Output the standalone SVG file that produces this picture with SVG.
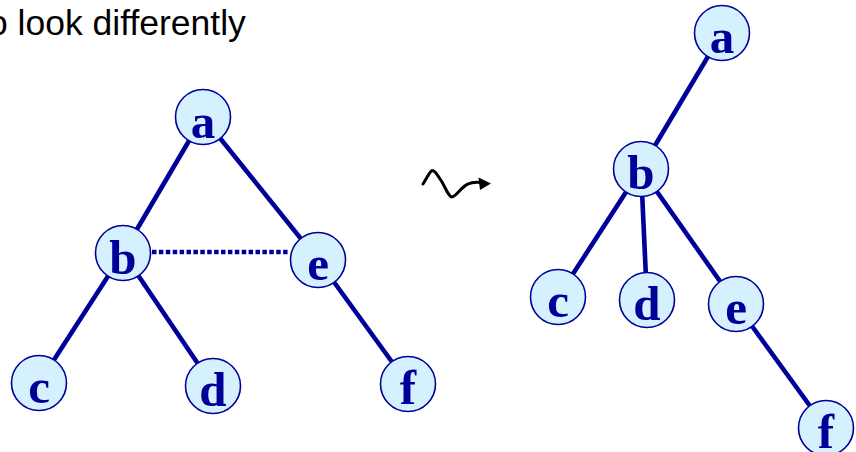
<svg xmlns="http://www.w3.org/2000/svg" width="856" height="452" viewBox="0 0 856 452">
<style>
.edge{stroke:#000099;stroke-width:4.6;fill:none;stroke-linecap:butt}
.dot{stroke:#000099;stroke-width:4.5;fill:none;stroke-dasharray:4.5 2.4}
.node circle{fill:#d5f0fe;stroke:#000099;stroke-width:1.6}
.node text{font-family:"Liberation Serif","Times New Roman",serif;font-weight:bold;font-size:49px;fill:#000099;text-anchor:middle}
.title{font-family:"Liberation Sans",Arial,sans-serif;font-size:35.5px;fill:#000000}
</style>
<rect width="856" height="452" fill="#ffffff"/>
<text class="title" x="-12" y="35">o look differently</text>
<g id="connectors">
<line class="edge" x1="203" y1="117" x2="123" y2="253"/>
<line class="edge" x1="203" y1="117" x2="318" y2="260"/>
<line class="edge" x1="123" y1="253" x2="39" y2="383"/>
<line class="edge" x1="123" y1="253" x2="213" y2="386"/>
<line class="edge" x1="318" y1="260" x2="408" y2="384"/>
<line class="dot" x1="152" y1="252" x2="290" y2="252"/>
<line class="edge" x1="722" y1="33" x2="641" y2="169"/>
<line class="edge" x1="641" y1="169" x2="558" y2="297"/>
<line class="edge" x1="641" y1="169" x2="647" y2="300"/>
<line class="edge" x1="641" y1="169" x2="736" y2="304"/>
<line class="edge" x1="736" y1="304" x2="826" y2="428"/>
</g>
<g id="squiggle">
<path d="M423,184 C427,178 430,171 432,170.5 C435,170 438,176 442,182 C446,189 449,197 452,197 C456,197 462,186 468,184 C472,182 476,182 481,182.5" fill="none" stroke="#000000" stroke-width="3" stroke-linecap="round"/>
<polygon points="491,183.5 478.5,177.5 480,190" fill="#000000"/>
</g>
<g id="L-a" class="node"><circle cx="203" cy="117" r="27.5"/><text x="203" y="138">a</text></g>
<g id="L-b" class="node"><circle cx="123" cy="253" r="27.5"/><text x="123" y="274">b</text></g>
<g id="L-e" class="node"><circle cx="318" cy="260" r="27.5"/><text x="318" y="280">e</text></g>
<g id="L-c" class="node"><circle cx="39" cy="383" r="27.5"/><text x="39" y="403">c</text></g>
<g id="L-d" class="node"><circle cx="213" cy="386" r="27.5"/><text x="213" y="406">d</text></g>
<g id="L-f" class="node"><circle cx="408" cy="384" r="27.5"/><text x="408" y="404">f</text></g>
<g id="R-a" class="node"><circle cx="722" cy="33" r="27.5"/><text x="722" y="53">a</text></g>
<g id="R-b" class="node"><circle cx="641" cy="169" r="27.5"/><text x="641" y="189">b</text></g>
<g id="R-c" class="node"><circle cx="558" cy="297" r="27.5"/><text x="558" y="317">c</text></g>
<g id="R-d" class="node"><circle cx="647" cy="300" r="27.5"/><text x="647" y="320">d</text></g>
<g id="R-e" class="node"><circle cx="736" cy="304" r="27.5"/><text x="736" y="324">e</text></g>
<g id="R-f" class="node"><circle cx="826" cy="428" r="27.5"/><text x="826" y="448">f</text></g>
</svg>
